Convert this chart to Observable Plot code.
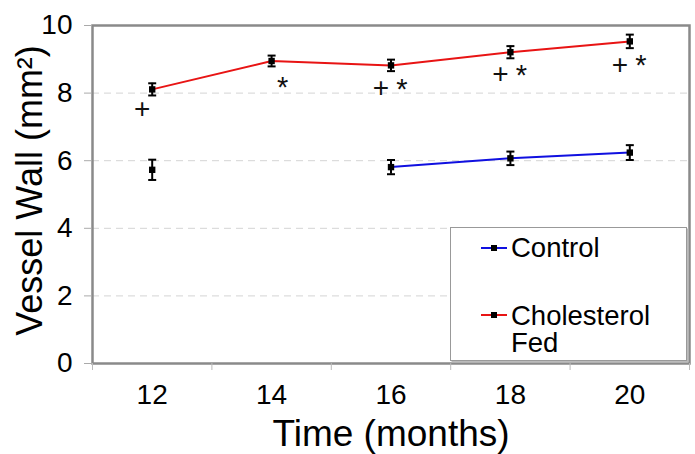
<!DOCTYPE html>
<html><head><meta charset="utf-8">
<script src="https://cdn.jsdelivr.net/npm/d3@7"></script>
<script src="https://cdn.jsdelivr.net/npm/@observablehq/plot@0.6"></script>
<style>
body{margin:0;background:#fff;font-family:"Liberation Sans",Arial,Helvetica,sans-serif;}
#wrap{position:relative;width:695px;height:454px;overflow:hidden;}
#legend{position:absolute;left:450px;top:227px;width:237px;height:134px;box-sizing:border-box;border:1.5px solid #999;background:#fff;box-shadow:1.5px 1.5px 0 #bbb;}
.lt{position:absolute;left:60px;font-size:27.5px;line-height:27px;color:#000;white-space:nowrap;}
.ls{position:absolute;left:30px;}
</style></head>
<body>
<div id="wrap"><div id="chart"></div>
<div id="legend"></div>
</div>
<script>
// ---- data ----
const months = [12, 14, 16, 18, 20];
const controlValues = [5.73, NaN, 5.81, 6.07, 6.24];
const controlErrors = [0.30, NaN, 0.21, 0.20, 0.22];
const cholValues = [8.11, 8.95, 8.82, 9.21, 9.53];
const cholErrors = [0.18, 0.16, 0.17, 0.18, 0.20];
const seriesNames = ["Control", "Cholesterol Fed"];
const seriesColors = ["#1010e0", "#e81414"];
// significance marks
const plusMonths = [12, 16, 18, 20];
const plusValues = [7.54, 8.15, 8.55, 8.82];
const starMonths = [14, 16, 18, 20];
const starValues = [8.35, 8.29, 8.70, 8.98];
const yTicks = [0, 2, 4, 6, 8, 10];
const xLabelTicks = [12, 14, 16, 18, 20];
const xMinorTicks = [11, 13, 15, 17, 19, 21];
const yTitle = "Vessel Wall (mm²)";
const xTitle = "Time (months)";

const control = months.map((m, i) => ({month: m, value: controlValues[i], err: controlErrors[i]}));
const chol = months.map((m, i) => ({month: m, value: cholValues[i], err: cholErrors[i]}));
const plus = plusMonths.map((m, i) => ({month: m, value: plusValues[i]}));
const star = starMonths.map((m, i) => ({month: m, value: starValues[i]}));

const cap = {draw(ctx, size) { const w = Math.sqrt(size / Math.PI); ctx.moveTo(-w, 0); ctx.lineTo(w, 0); }};
const font = "Liberation Sans, Arial, Helvetica, sans-serif";

function errMarks(data) {
  return [
    Plot.ruleX(data, {x: "month", y1: d => d.value - d.err, y2: d => d.value + d.err, stroke: "#000", strokeWidth: 2}),
    Plot.dot(data, {x: "month", y: d => d.value + d.err, symbol: cap, r: 4, stroke: "#000", strokeWidth: 2}),
    Plot.dot(data, {x: "month", y: d => d.value - d.err, symbol: cap, r: 4, stroke: "#000", strokeWidth: 2}),
    Plot.dot(data, {x: "month", y: "value", symbol: "square", r: 3.6, fill: "#000", stroke: "none"})
  ];
}

const chart = Plot.plot({
  width: 695,
  height: 454,
  marginLeft: 92,
  marginRight: 6,
  marginTop: 25,
  marginBottom: 91,
  style: {fontFamily: font, background: "#fff", color: "#000"},
  x: {domain: [11, 21]},
  y: {domain: [0, 10]},
  marks: [
    Plot.ruleY(yTicks.slice(1, -1), {stroke: "#d4d4d4", strokeWidth: 1, strokeDasharray: "7,5"}),
    Plot.frame({stroke: "#8a8a8a", strokeWidth: 2.5}),
    Plot.line(control, {x: "month", y: "value", stroke: seriesColors[0], strokeWidth: 2}),
    Plot.line(chol, {x: "month", y: "value", stroke: seriesColors[1], strokeWidth: 2}),
    ...errMarks(control),
    ...errMarks(chol),
    Plot.text(plus, {x: "month", y: "value", text: () => "+", dx: -10, fontSize: 28, fill: "#111"}),
    Plot.text(star, {x: "month", y: "value", text: () => "*", dx: 11, dy: 6, fontSize: 29, fill: "#111"}),
    Plot.axisY({ticks: yTicks, tickSize: 8, tickPadding: 12, fontSize: 28, stroke: "#aaa", label: null}),
    Plot.axisX({ticks: xMinorTicks, tickFormat: () => "", tickSize: 7, stroke: "#bbb", label: null}),
    Plot.axisX({ticks: xLabelTicks, tickSize: 0, tickPadding: 21, fontSize: 28, label: null}),
    Plot.text([yTitle], {frameAnchor: "left", textAnchor: "middle", lineAnchor: "middle", rotate: -90, dx: -62, dy: -4, fontSize: 36, fill: "#000"}),
    Plot.text([xTitle], {frameAnchor: "bottom", textAnchor: "middle", lineAnchor: "middle", dy: 71, fontSize: 37, fill: "#000"})
  ]
});
document.getElementById("chart").appendChild(chart);

// ---- legend ----
const legend = d3.select("#legend");
const rows = [{name: "Control", color: seriesColors[0], lineY: 20, textTop: 6}, {name: "Cholesterol<br>Fed", color: seriesColors[1], lineY: 87, textTop: 74}];
rows.forEach(r => {
  const s = legend.append("svg").attr("class", "ls").attr("width", 28).attr("height", 10)
    .style("top", (r.lineY - 5) + "px");
  s.append("line").attr("x1", 0).attr("x2", 26).attr("y1", 5).attr("y2", 5).attr("stroke", r.color).attr("stroke-width", 2);
  s.append("rect").attr("x", 10).attr("y", 2).attr("width", 6).attr("height", 6).attr("fill", "#000");
  legend.append("div").attr("class", "lt").style("top", r.textTop + "px").html(r.name);
});
</script>
</body></html>
